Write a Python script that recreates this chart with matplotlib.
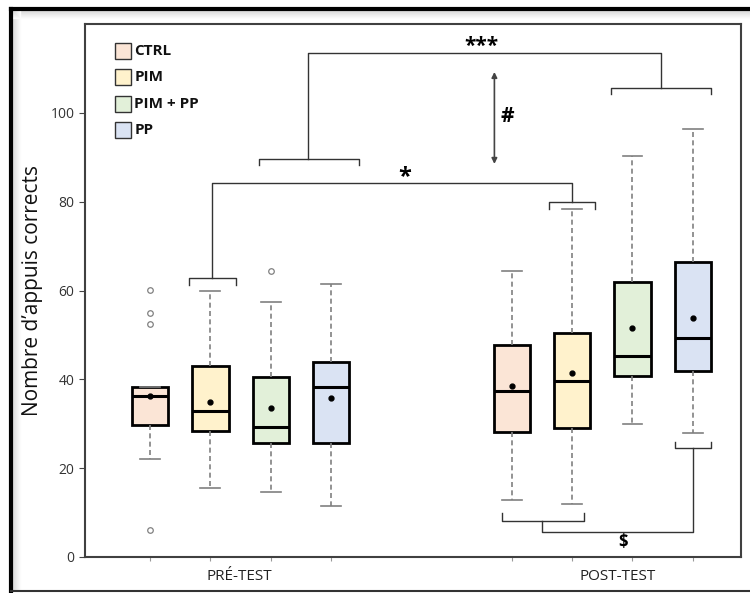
import matplotlib
matplotlib.use("Agg")
import matplotlib.pyplot as plt
from matplotlib.lines import Line2D
from matplotlib.patches import Rectangle

plt.rcParams["font.family"] = ["Open Sans", "DejaVu Sans"]

# ---- data ----
groups = ["CTRL", "PIM", "PIM + PP", "PP"]
colors = ["#FBE5D6", "#FFF2CC", "#E2F0D9", "#DAE3F3"]
phases = ["PRÉ-TEST", "POST-TEST"]

pre_q1 = [29.8, 28.4, 25.6, 25.6]
pre_med = [36.2, 32.9, 29.3, 38.3]
pre_q3 = [38.3, 43.0, 40.6, 43.8]
pre_whislo = [22.0, 15.5, 14.6, 11.5]
pre_whishi = [38.3, 59.9, 57.3, 61.4]
pre_mean = [36.2, 35.0, 33.5, 35.9]
pre_fliers = [[60.1, 55.0, 52.4, 6.1], [], [64.4], []]

post_q1 = [28.2, 29.0, 40.7, 41.9]
post_med = [37.4, 39.7, 45.2, 49.4]
post_q3 = [47.7, 50.5, 61.9, 66.4]
post_whislo = [12.9, 12.0, 29.9, 28.0]
post_whishi = [64.4, 78.4, 90.3, 96.4]
post_mean = [38.6, 41.5, 51.6, 53.9]
post_fliers = [[], [], [], []]

pre_pos = [1, 2, 3, 4]
post_pos = [7, 8, 9, 10]


def make_stats(q1, med, q3, lo, hi, mean, fliers):
    return [
        dict(q1=a, med=b, q3=c, whislo=d, whishi=e, mean=f, fliers=g)
        for a, b, c, d, e, f, g in zip(q1, med, q3, lo, hi, mean, fliers)
    ]


stats = make_stats(pre_q1, pre_med, pre_q3, pre_whislo, pre_whishi, pre_mean, pre_fliers) + \
    make_stats(post_q1, post_med, post_q3, post_whislo, post_whishi, post_mean, post_fliers)
positions = pre_pos + post_pos

fig = plt.figure(figsize=(7.5, 5.93), dpi=100)
ax = fig.add_axes([85 / 750, 36 / 593, 656 / 750, 533 / 593])

bp = ax.bxp(
    stats,
    positions=positions,
    widths=0.6,
    patch_artist=True,
    showmeans=True,
    showfliers=True,
    boxprops=dict(edgecolor="black", linewidth=2),
    medianprops=dict(color="black", linewidth=2.2),
    whiskerprops=dict(color="#808080", linewidth=1.2, linestyle=(0, (3, 2))),
    capprops=dict(color="#808080", linewidth=1.2),
    capwidths=0.33,
    meanprops=dict(marker="o", markerfacecolor="black", markeredgecolor="black", markersize=3.5),
    flierprops=dict(marker="o", markerfacecolor="white", markeredgecolor="#808080",
                    markersize=4, markeredgewidth=0.9),
)
for i, box in enumerate(bp["boxes"]):
    box.set_facecolor(colors[i % 4])

ax.set_xlim(-0.08, 10.8)
ax.set_ylim(0, 120)
ax.set_yticks([0, 20, 40, 60, 80, 100])
ax.set_xticks(positions)
ax.set_xticklabels([])
ax.tick_params(axis="y", labelsize=10, length=4, color="#444444", labelcolor="#333333")
ax.tick_params(axis="x", length=3, color="#999999")
for s in ax.spines.values():
    s.set_color("#404040")
    s.set_linewidth(1.5)
ax.set_ylabel("Nombre d’appuis corrects", fontsize=15, color="#111111")
ax.yaxis.set_label_coords(-0.064, 0.5)

# phase labels
ax.text(2.48, -4.4, phases[0], ha="center", va="center", fontsize=11, color="#222222")
ax.text(8.76, -4.4, phases[1], ha="center", va="center", fontsize=11, color="#222222")

# legend
leg_y = [114, 108, 102, 96.2]
for name, col, y in zip(groups, colors, leg_y):
    ax.add_patch(Rectangle((0.42, y - 1.8), 0.27, 3.6, facecolor=col,
                           edgecolor="#333333", linewidth=1.0))
    ax.text(0.74, y, name, ha="left", va="center", fontsize=11, fontweight="bold",
            color="#111111")

lc = "#333333"


def bracket(x0, x1, y, leg):
    ax.plot([x0, x0, x1, x1], [y + leg, y, y, y + leg], color=lc, linewidth=1)


# pre PIM vs post PIM (*)
bracket(1.65, 2.42, 62.9, -1.7)
bracket(7.61, 8.38, 80.0, -1.7)
ax.plot([2.03, 2.03, 8.0, 8.0], [62.9, 84.2, 84.2, 80.0], color=lc, linewidth=1)
ax.text(5.23, 85.6, "*", ha="center", va="center", fontsize=17, fontweight="bold")

# pre PIM+PP/PP vs post PIM+PP/PP (***)
bracket(2.8, 4.46, 89.7, -1.4)
bracket(8.65, 10.31, 105.6, -1.4)
ax.plot([3.62, 3.62, 9.47, 9.47], [89.7, 113.5, 113.5, 105.6], color=lc, linewidth=1)
ax.text(6.5, 115.0, "***", ha="center", va="center", fontsize=15, fontweight="bold")

# double arrow (#)
ax.annotate("", xy=(6.71, 109.2), xytext=(6.71, 88.5),
            arrowprops=dict(arrowstyle="<|-|>", color="#444444", linewidth=1.2,
                            mutation_scale=8, shrinkA=0, shrinkB=0))
ax.text(6.93, 99.2, "#", ha="center", va="center", fontsize=15, fontweight="bold")

# post CTRL/PIM vs post PP ($)
bracket(6.83, 8.19, 8.1, 1.7)
bracket(9.7, 10.31, 24.6, 1.2)
ax.plot([7.5, 7.5, 10.01, 10.01], [8.1, 5.6, 5.6, 24.6], color=lc, linewidth=1)
ax.text(8.84, 3.4, "$", ha="center", va="center", fontsize=12, fontweight="bold")

# outer frame of the original figure, with a soft shadow on top and left
for k in range(8):
    g = 0.86 + 0.018 * k
    fig.add_artist(Line2D([12 / 750, 1.0], [1 - (11 + k) / 593] * 2, transform=fig.transFigure,
                          color=(g, g, g), linewidth=1))
    fig.add_artist(Line2D([(13 + k) / 750] * 2, [3 / 593, 1 - 11 / 593], transform=fig.transFigure,
                          color=(g, g, g), linewidth=1))
fig.add_artist(Line2D([11 / 750, 1.0], [1 - 9 / 593, 1 - 9 / 593], transform=fig.transFigure,
                      color="black", linewidth=3))
fig.add_artist(Line2D([11 / 750, 11 / 750], [2 / 593, 1 - 9 / 593], transform=fig.transFigure,
                      color="black", linewidth=3))
fig.add_artist(Line2D([11 / 750, 1.0], [2 / 593, 2 / 593], transform=fig.transFigure,
                      color="#333333", linewidth=1.5))

fig.savefig("out.png", dpi=100)
